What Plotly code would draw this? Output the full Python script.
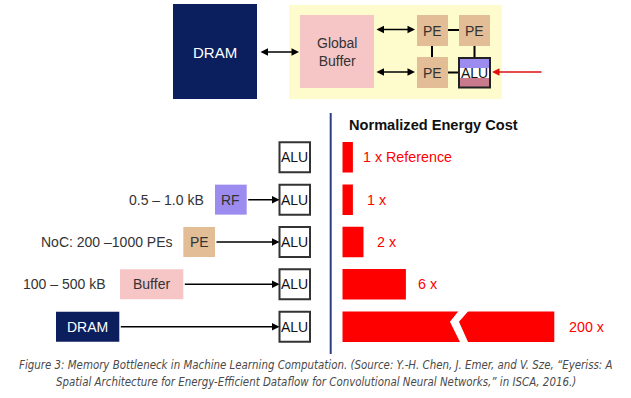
import plotly.graph_objects as go

# ---------------- data ----------------
levels = ["ALU", "RF", "PE", "Buffer", "DRAM"]
storage_labels = ["", "RF", "PE", "Buffer", "DRAM"]
size_labels = ["", "0.5 – 1.0 kB", "NoC: 200 –1000 PEs", "100 – 500 kB", ""]
energy_cost = [1, 1, 2, 6, 200]
energy_text = ["1 x Reference", "1 x", "2 x", "6 x", "200 x"]
axis_break_cap = 20          # bars longer than this are drawn with a break
display_len = [min(v, axis_break_cap) for v in energy_cost]

# ---------------- styles / layout ----------------
W, H = 631, 398
FONT = "Liberation Sans, Arial, sans-serif"
NAVY = "#0b1f5e"
PURPLE = "#9c8cf0"
TAN = "#e2bd96"
PINK = "#f6c6c7"
YELLOW = "#fefccc"
MAUVE = "#c97a8c"
RED = "#ff0000"
DARK = "#333333"

box_colors = [None, PURPLE, TAN, PINK, NAVY]
box_text_colors = [None, DARK, DARK, DARK, "white"]
box_x = [None, (215, 246.7), (183.3, 215), (120, 183.3), (56, 119.3)]
size_label_right = [None, 206, 174.5, 108, None]
alu_x = (279.5, 310)
label_shift = [8, 12, 11, 10, 13]

px_per_unit = 10.6
bar_x0_px = 342.3
row_top_px, row_bot_px = 136.1, 347.9

fig = go.Figure()
fig.add_trace(go.Bar(
    x=display_len, y=levels, orientation="h", xaxis="x2", yaxis="y2",
    marker=dict(color=RED, line=dict(width=0)), width=0.72,
    customdata=energy_cost, hovertemplate="%{y}: %{customdata} x<extra></extra>",
))

shapes = []
ann = []

def rect(x0, y0, x1, y1, fill, line_color=None, lw=0, xref="x", yref="y"):
    shapes.append(dict(type="rect", x0=x0, y0=y0, x1=x1, y1=y1, xref=xref, yref=yref,
                       fillcolor=fill, line=dict(color=line_color or fill, width=lw),
                       layer="above"))

def line(x0, y0, x1, y1, color="black", w=2, xref="x", yref="y"):
    shapes.append(dict(type="line", x0=x0, y0=y0, x1=x1, y1=y1, xref=xref, yref=yref,
                       line=dict(color=color, width=w), layer="above"))

def text(x, y, s, size=14, color=DARK, xanchor="center", xref="x", yref="y", bold=False, xshift=0):
    ann.append(dict(x=x, y=y, xref=xref, yref=yref, text=(f"<b>{s}</b>" if bold else s),
                    showarrow=False, xanchor=xanchor, yanchor="middle", xshift=xshift,
                    font=dict(family=FONT, size=size, color=color)))

def arrow(x_tail, x_head, y, yref="y", color="black", both=False, w=1.5):
    ann.append(dict(x=x_head, y=y, ax=x_tail, ay=y, xref="x", yref=yref, axref="x", ayref=yref,
                    text="", showarrow=True, arrowhead=2, arrowsize=1, arrowwidth=w,
                    arrowcolor=color, startarrowhead=2, startarrowsize=1,
                    arrowside="end+start" if both else "end", standoff=0, startstandoff=0))

# ---------- top diagram ----------
rect(173, 4, 257, 99, NAVY)
text(215, 52, "DRAM", size=15, color="white")
rect(289, 5, 502, 99, YELLOW)
arrow(259, 299, 52, both=True)
rect(300, 15, 374, 88, PINK)
text(337, 52, "Global<br>Buffer", size=14, color=DARK)
arrow(375, 415, 29.5, both=True)
arrow(375, 415, 72, both=True)
# links between PEs
line(448, 30, 459, 30)
line(432, 46, 432, 57)
line(474.5, 46, 474.5, 58)
line(448, 72.5, 459, 72.5)
rect(417, 15, 448, 46, TAN)
rect(459, 15, 490, 46, TAN)
rect(417, 57, 448, 88, TAN)
text(432.5, 30.5, "PE")
text(474.5, 30.5, "PE")
text(432.5, 72.5, "PE")
rect(459, 58, 490, 68, PURPLE)
rect(459, 68, 490, 78, "white")
rect(459, 78, 490, 87.5, MAUVE)
shapes.append(dict(type="rect", x0=459, y0=58, x1=490, y1=87.5, xref="x", yref="y",
                   fillcolor="rgba(0,0,0,0)", line=dict(color="#222222", width=2), layer="above"))
text(474.5, 73, "ALU", color="#111111")
arrow(543, 492, 72, color="#e01010", w=1.5)

# ---------- left hierarchy ----------
half = 15 / ((row_bot_px - row_top_px) / len(levels))
for i, lv in enumerate(levels):
    shapes.append(dict(type="rect", x0=alu_x[0], x1=alu_x[1], y0=i - half, y1=i + half,
                       xref="x", yref="y2", fillcolor="white",
                       line=dict(color="#333333", width=2), layer="above"))
    text(sum(alu_x) / 2, lv, "ALU", yref="y2", color="#111111")
    if box_x[i] is not None:
        x0, x1 = box_x[i]
        rect(x0, i - half, x1, i + half, box_colors[i], xref="x", yref="y2")
        text((x0 + x1) / 2, lv, storage_labels[i], color=box_text_colors[i], yref="y2")
        arrow(x1, alu_x[0], i, yref="y2")
    if size_labels[i]:
        text(size_label_right[i], lv, size_labels[i], yref="y2", xanchor="right")

# divider
line(330.7, 113, 330.7, 354, color="#2c3e85", w=2)

# ---------- energy chart ----------
text(347, 125, "Normalized Energy Cost", size=14.6, bold=True, xanchor="left", color="#111111")
for i, lv in enumerate(levels):
    ann.append(dict(x=display_len[i], y=lv, xref="x2", yref="y2", text=energy_text[i],
                    showarrow=False, xanchor="left", yanchor="middle", xshift=label_shift[i],
                    font=dict(family=FONT, size=14.3, color=RED)))

# axis break on the capped bar
brk = 11.1
for i, v in enumerate(energy_cost):
    if v > axis_break_cap:
        u = 1 / px_per_unit
        hb = 0.41
        pts = [(brk, i - hb), (brk + 10 * u, i - hb), (brk - 1 * u, i - 0.12),
               (brk + 9 * u, i + hb), (brk + 1 * u, i + hb), (brk - 10 * u, i - 0.12)]
        path = "M " + " L ".join(f"{x:.4f},{y:.4f}" for x, y in pts) + " Z"
        shapes.append(dict(type="path", path=path, xref="x2", yref="y2",
                           fillcolor="white", line=dict(color="white", width=0), layer="above"))

# ---------- caption ----------
cap1 = ("Figure 3: Memory Bottleneck in Machine Learning Computation. (Source: Y.-H. Chen, "
        "J. Emer, and V. Sze, “Eyeriss: A")
cap2 = ("Spatial Architecture for Energy-Efficient Dataflow for Convolutional Neural "
        "Networks,” in ISCA, 2016.)")
CAPFONT = "DejaVu Sans Condensed, Roboto, sans-serif"
for s, yy in [(cap1, 365), (cap2, 382)]:
    ann.append(dict(x=0.5, y=yy, xref="paper", yref="y", text=f"<i>{s}</i>", showarrow=False,
                    xanchor="center", yanchor="middle",
                    font=dict(family=CAPFONT, size=11.4, color="#4a4a4a")))

fig.update_layout(
    width=W, height=H, autosize=False, margin=dict(l=0, r=0, t=0, b=0),
    paper_bgcolor="white", plot_bgcolor="rgba(0,0,0,0)", showlegend=False,
    xaxis=dict(range=[0, W], domain=[0, 1], visible=False, fixedrange=True),
    yaxis=dict(range=[H, 0], domain=[0, 1], visible=False, fixedrange=True),
    xaxis2=dict(domain=[bar_x0_px / W, 1], range=[0, (W - bar_x0_px) / px_per_unit],
                anchor="y2", visible=False, fixedrange=True),
    yaxis2=dict(domain=[1 - row_bot_px / H, 1 - row_top_px / H], range=[len(levels) - 0.5, -0.5],
                type="category", categoryorder="array", categoryarray=levels,
                anchor="x2", visible=False, fixedrange=True),
    shapes=shapes, annotations=ann,
)
fig.write_html("out.html", config={"displayModeBar": False},
               post_script="document.body.style.margin='0';document.body.style.overflow='hidden';")
